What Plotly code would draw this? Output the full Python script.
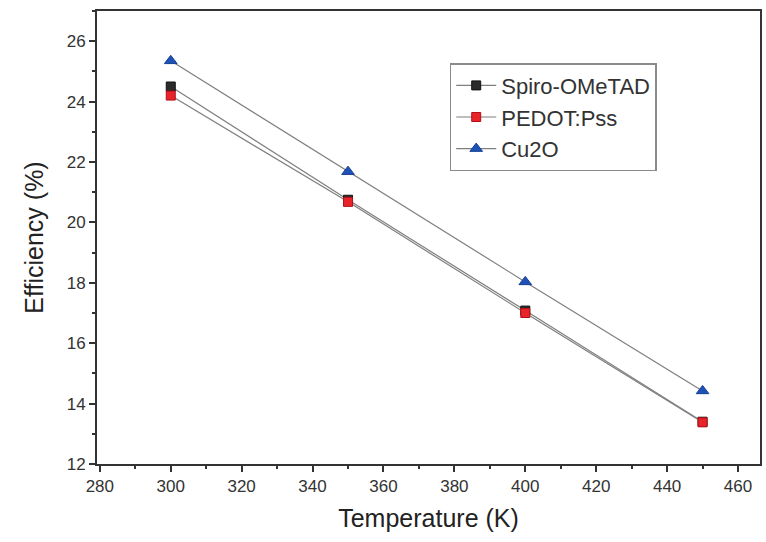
import plotly.graph_objects as go

temperature = [300, 350, 400, 450]
spiro = [24.5, 20.75, 17.08, 13.4]
pedot = [24.2, 20.68, 17.0, 13.38]
cu2o = [25.35, 21.68, 18.03, 14.42]

series_names = ["Spiro-OMeTAD", "PEDOT:Pss", "Cu2O"]

fig = go.Figure()
fig.add_trace(go.Scatter(x=temperature, y=spiro, name=series_names[0], mode="lines+markers",
                         line=dict(color="#7f7f7f", width=1.2),
                         marker=dict(symbol="square", size=9, color="#2b2b2b", line=dict(color="#111", width=1))))
fig.add_trace(go.Scatter(x=temperature, y=pedot, name=series_names[1], mode="lines+markers",
                         line=dict(color="#7f7f7f", width=1.2),
                         marker=dict(symbol="square", size=9, color="#e8232a", line=dict(color="#b01018", width=1))))
fig.add_trace(go.Scatter(x=temperature, y=cu2o, name=series_names[2], mode="lines+markers",
                         line=dict(color="#7f7f7f", width=1.2),
                         marker=dict(symbol="triangle-up", size=11, color="#1f52b8", line=dict(color="#163f90", width=1))))

axis_font = dict(family="Liberation Sans, Arial, sans-serif", size=17, color="#333333")
title_font = dict(family="Liberation Sans, Arial, sans-serif", size=25, color="#222")

fig.update_layout(
    width=766, height=542,
    margin=dict(l=97, r=4, t=11, b=78),
    paper_bgcolor="white", plot_bgcolor="white",
    showlegend=True,
    legend=dict(x=0.532, y=0.885, xanchor="left", yanchor="top",
                bgcolor="white", bordercolor="#8a8a8a", borderwidth=1.5,
                font=dict(family="Liberation Sans, Arial, sans-serif", size=22, color="#333333"),
                itemwidth=40, tracegroupgap=0),
    xaxis=dict(range=[279.2, 466.2], tickmode="array",
               tickvals=[280, 300, 320, 340, 360, 380, 400, 420, 440, 460],
               ticks="outside", ticklen=6, tickwidth=1.5, tickcolor="#333",
               minor=dict(ticks="outside", ticklen=3, dtick=10, tick0=280, tickcolor="#333"),
               showline=True, linecolor="#333", linewidth=1.8, mirror=True,
               showgrid=False, zeroline=False, tickfont=axis_font,
               title=dict(text="Temperature (K)", font=title_font, standoff=14)),
    yaxis=dict(range=[12, 27.0], tickmode="array",
               tickvals=[12, 14, 16, 18, 20, 22, 24, 26],
               ticks="outside", ticklen=6, tickwidth=1.5, tickcolor="#333",
               minor=dict(ticks="outside", ticklen=3, dtick=1, tick0=12, tickcolor="#333"),
               showline=True, linecolor="#333", linewidth=1.8, mirror=True,
               showgrid=False, zeroline=False, tickfont=axis_font,
               title=dict(text="Efficiency (%)", font=title_font, standoff=16)),
)

fig.write_html("out.html")
